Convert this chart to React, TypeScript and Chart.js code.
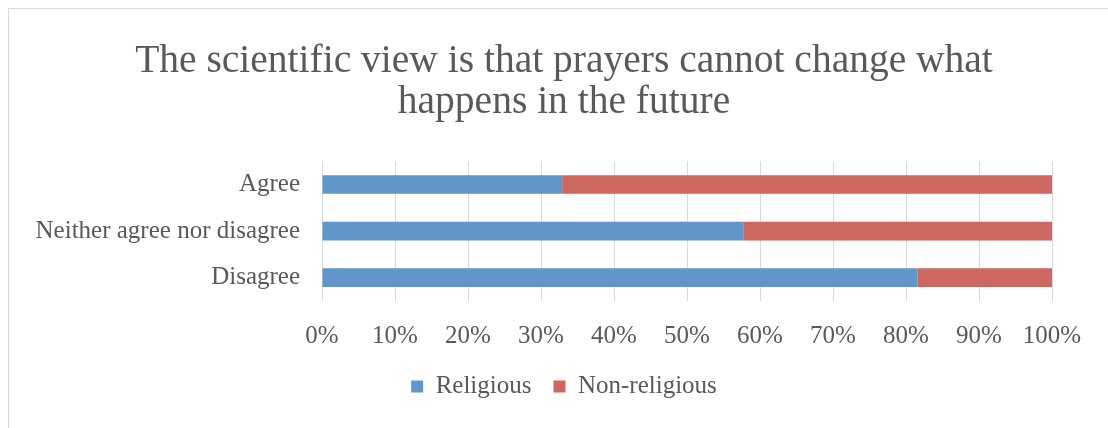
import { useEffect, useRef } from "react";
import { Chart, registerables } from "chart.js";

Chart.register(...registerables);

const categories = ["Agree", "Neither agree nor disagree", "Disagree"];
const religious = [32.9, 57.7, 81.6];
const nonReligious = [67.1, 42.3, 18.4];
const seriesNames = ["Religious", "Non-religious"];
const titleLines = [
  "The scientific view is that prayers cannot change what",
  "happens in the future",
];

const FONT = "'Liberation Serif', 'DejaVu Serif', serif";
const TEXT = "#595959";

// centre title + legend on the whole frame, and lift the legend up a bit
const boxNudge = {
  id: "boxNudge",
  afterLayout(chart: Chart) {
    const title = (chart as any).titleBlock;
    if (title) title.left += 76;
    const legend = chart.legend;
    if (legend) {
      legend.left += 76;
      legend.top -= 19;
      legend.bottom -= 19;
    }
  },
};

const App: React.FC = () => {
  const canvasRef = useRef<HTMLCanvasElement>(null);
  const chartRef = useRef<Chart<"bar", number[], string> | null>(null);

  useEffect(() => {
    document.body.style.margin = "0";
    if (!canvasRef.current) return;
    const ctx = canvasRef.current.getContext("2d");
    if (!ctx) return;

    chartRef.current = new Chart(ctx, {
      type: "bar",
      data: {
        labels: categories,
        datasets: [
          {
            label: seriesNames[0],
            data: religious,
            backgroundColor: "#6196CA",
            barPercentage: 0.4,
            categoryPercentage: 1,
          },
          {
            label: seriesNames[1],
            data: nonReligious,
            backgroundColor: "#CD6760",
            barPercentage: 0.4,
            categoryPercentage: 1,
          },
        ],
      },
      options: {
        indexAxis: "y",
        animation: false,
        responsive: false,
        layout: { padding: { left: 0, right: 56, top: 0, bottom: 0 } },
        scales: {
          x: {
            stacked: true,
            min: 0,
            max: 100,
            grid: { color: "#d9d9d9", lineWidth: 1, drawTicks: false },
            border: { display: false },
            ticks: {
              stepSize: 10,
              padding: 20,
              color: TEXT,
              font: { family: FONT, size: 25 },
              callback: (v) => `${v}%`,
            },
          },
          y: {
            stacked: true,
            grid: { display: false, drawTicks: false },
            border: { display: false },
            ticks: {
              padding: 22,
              color: TEXT,
              font: { family: FONT, size: 25 },
            },
            afterFit: (scale) => {
              scale.width = 322;
            },
          },
        },
        plugins: {
          title: {
            display: true,
            text: titleLines,
            color: TEXT,
            font: { family: FONT, size: 39.5, weight: "normal", lineHeight: 1.04 },
            padding: { top: 41, bottom: 38 },
          },
          legend: {
            position: "bottom",
            labels: {
              boxWidth: 12,
              boxHeight: 12,
              padding: 22,
              color: TEXT,
              font: { family: FONT, size: 25 },
            },
          },
          tooltip: { enabled: false },
        },
      },
      plugins: [boxNudge],
    });

    return () => {
      if (chartRef.current) {
        chartRef.current.destroy();
        chartRef.current = null;
      }
    };
  }, []);

  return (
    <div style={{ position: "relative", width: 1108, height: 428, overflow: "hidden", background: "#fff" }}>
      <div
        style={{
          position: "absolute",
          left: 8,
          top: 8,
          width: 1120,
          height: 440,
          borderTop: "1px solid #d9d9d9",
          borderLeft: "1px solid #d9d9d9",
        }}
      />
      <canvas
        ref={canvasRef}
        width={1108}
        height={428}
        style={{ position: "absolute", left: 0, top: 0, width: 1108, height: 428 }}
      />
    </div>
  );
};

export default App;
